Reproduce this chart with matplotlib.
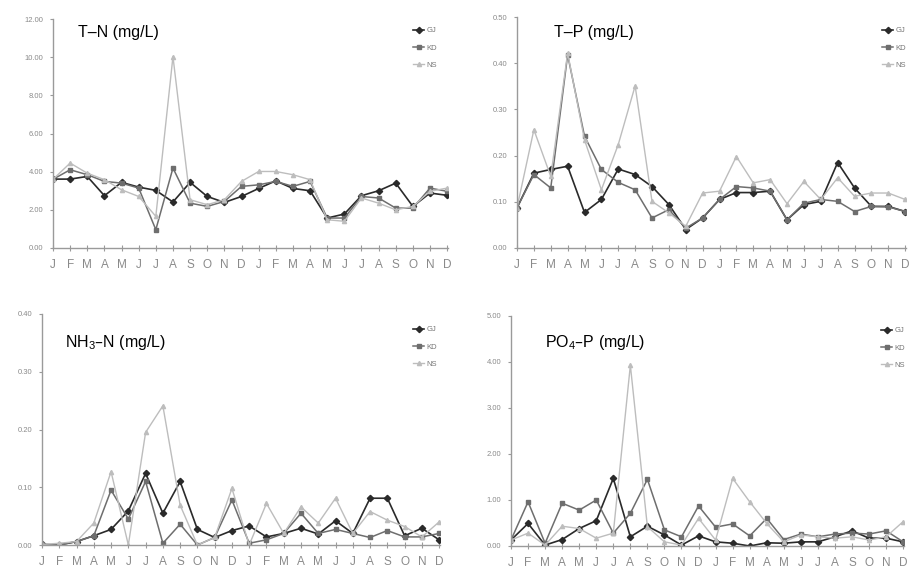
import matplotlib
matplotlib.use("Agg")
import numpy as np
from matplotlib import pyplot as plt

plt.rcParams['font.family'] = ['Liberation Sans', 'DejaVu Sans']
plt.rcParams['mathtext.default'] = 'regular'

months = ['J', 'F', 'M', 'A', 'M', 'J', 'J', 'A', 'S', 'O', 'N', 'D'] * 2
stations = ['GJ', 'KD', 'NS']

# T-N (mg/L)
tn_gj = [3.61, 3.61, 3.75, 2.74, 3.44, 3.19, 3.02, 2.41, 3.44, 2.70, 2.39, 2.70,
         3.12, 3.52, 3.12, 3.00, 1.57, 1.78, 2.74, 3.00, 3.40, 2.18, 2.88, 2.76]
tn_kd = [3.60, 4.10, 3.84, 3.49, 3.40, 3.14, 0.96, 4.19, 2.35, 2.18, 2.44, 3.23,
         3.31, 3.49, 3.23, 3.49, 1.57, 1.57, 2.70, 2.62, 2.09, 2.09, 3.14, 2.97]
tn_ns = [3.60, 4.45, 3.92, 3.58, 3.05, 2.70, 1.66, 10.03, 2.53, 2.27, 2.53, 3.49,
         4.01, 4.01, 3.84, 3.58, 1.48, 1.40, 2.62, 2.35, 2.00, 2.18, 2.97, 3.14]

# T-P (mg/L)
tp_gj = [0.087, 0.162, 0.170, 0.177, 0.077, 0.105, 0.171, 0.159, 0.133, 0.094, 0.040, 0.065,
         0.105, 0.120, 0.120, 0.123, 0.061, 0.094, 0.101, 0.185, 0.130, 0.090, 0.090, 0.079]
tp_kd = [0.087, 0.159, 0.130, 0.418, 0.242, 0.170, 0.142, 0.126, 0.065, 0.083, 0.043, 0.065,
         0.105, 0.133, 0.130, 0.123, 0.061, 0.097, 0.105, 0.101, 0.079, 0.090, 0.089, 0.079]
tp_ns = [0.087, 0.256, 0.155, 0.422, 0.234, 0.126, 0.224, 0.351, 0.101, 0.076, 0.047, 0.119,
         0.123, 0.198, 0.141, 0.148, 0.096, 0.144, 0.105, 0.152, 0.112, 0.119, 0.119, 0.105]

# NH3-N (mg/L)
nh_gj = [0.001, 0.000, 0.006, 0.016, 0.027, 0.059, 0.124, 0.055, 0.110, 0.027, 0.013, 0.025,
         0.033, 0.014, 0.020, 0.029, 0.019, 0.042, 0.020, 0.081, 0.081, 0.016, 0.029, 0.009]
nh_kd = [0.001, 0.000, 0.006, 0.016, 0.095, 0.045, 0.110, 0.003, 0.036, 0.000, 0.013, 0.078,
         0.003, 0.009, 0.020, 0.055, 0.020, 0.027, 0.020, 0.013, 0.025, 0.014, 0.014, 0.020]
nh_ns = [0.001, 0.003, 0.006, 0.038, 0.127, 0.000, 0.195, 0.241, 0.069, 0.000, 0.013, 0.098,
         0.000, 0.072, 0.020, 0.066, 0.038, 0.081, 0.020, 0.058, 0.043, 0.032, 0.014, 0.040]

# PO4-P (mg/L)
po_gj = [0.13, 0.49, 0.02, 0.14, 0.38, 0.55, 1.47, 0.20, 0.43, 0.24, 0.02, 0.22,
         0.09, 0.06, 0.00, 0.07, 0.06, 0.09, 0.09, 0.20, 0.33, 0.17, 0.17, 0.09]
po_kd = [0.13, 0.96, 0.06, 0.93, 0.78, 1.00, 0.28, 0.71, 1.45, 0.35, 0.20, 0.87,
         0.41, 0.48, 0.22, 0.60, 0.14, 0.26, 0.20, 0.26, 0.28, 0.26, 0.33, 0.09]
po_ns = [0.13, 0.28, 0.02, 0.43, 0.38, 0.17, 0.28, 3.93, 0.42, 0.09, 0.02, 0.60,
         0.13, 1.47, 0.96, 0.49, 0.09, 0.24, 0.20, 0.17, 0.20, 0.13, 0.20, 0.53]

tn_ticks = ['0.00', '2.00', '4.00', '6.00', '8.00', '10.00', '12.00']
tp_ticks = ['0.00', '0.10', '0.20', '0.30', '0.40', '0.50']
nh_ticks = ['0.00', '0.10', '0.20', '0.30', '0.40']
po_ticks = ['0.00', '1.00', '2.00', '3.00', '4.00', '5.00']

W, H = 911, 570
fig = plt.figure(figsize=(W / 100, H / 100), dpi=100)

styles = [dict(color='#2a2a2a', marker='D', ms=3.2, lw=1.2),
          dict(color='#6e6e6e', marker='s', ms=3.0, lw=1.1),
          dict(color='#bdbdbd', marker='^', ms=3.0, lw=1.0)]

panels = [
    # axes box in pixels (left, bottom, right, top), title, title pos, legend corner
    ((53, 248, 448, 19), 'T–N (mg/L)', (78, 33), (437, 27), (tn_gj, tn_kd, tn_ns), tn_ticks, 2.0),
    ((517, 248, 906, 17), 'T–P (mg/L)', (554, 32), (906, 27), (tp_gj, tp_kd, tp_ns), tp_ticks, 0.1),
    ((42, 545, 440, 314), 'NH$_3$–N (mg/L)', (65, 343), (437, 326), (nh_gj, nh_kd, nh_ns), nh_ticks, 0.1),
    ((511, 546, 904, 316), 'PO$_4$–P (mg/L)', (545, 342), (905, 327), (po_gj, po_kd, po_ns), po_ticks, 1.0),
]

x = np.arange(24)
for (l, b, r, t), title, tpos, lpos, series, ticks, step in panels:
    ax = fig.add_axes([l / W, 1 - b / H, (r - l) / W, (b - t) / H])
    for s, name, st in zip(series, stations, styles):
        ax.plot(x, s, label=name, **st)
    ax.set_xlim(0, 23.05)
    ax.set_ylim(0, step * (len(ticks) - 1))
    ax.set_yticks([step * i for i in range(len(ticks))])
    ax.set_yticklabels(ticks)
    ax.set_xticks(x)
    ax.set_xticklabels(months)
    for sp in ['top', 'right']:
        ax.spines[sp].set_visible(False)
    for sp in ['left', 'bottom']:
        ax.spines[sp].set_color('#9a9a9a')
        ax.spines[sp].set_linewidth(1.0)
    ax.tick_params(axis='y', direction='out', length=2, color='#9a9a9a',
                   labelsize=5.5, labelcolor='#8a8a8a', pad=5)
    ax.tick_params(axis='x', direction='inout', length=4, color='#9a9a9a',
                   labelsize=8.5, labelcolor='#8a8a8a', pad=6)
    ax.patch.set_alpha(0)
    fig.text(tpos[0] / W, 1 - tpos[1] / H, title, fontsize=11.5, va='center', ha='left')
    ax.legend(loc='upper right', bbox_to_anchor=(lpos[0] / W, 1 - lpos[1] / H),
              bbox_transform=fig.transFigure, frameon=False, fontsize=5.5,
              labelcolor='#777777', handlelength=1.4, handletextpad=0.3,
              labelspacing=1.3, borderpad=0, borderaxespad=0)

fig.savefig('out.png', dpi=100)
